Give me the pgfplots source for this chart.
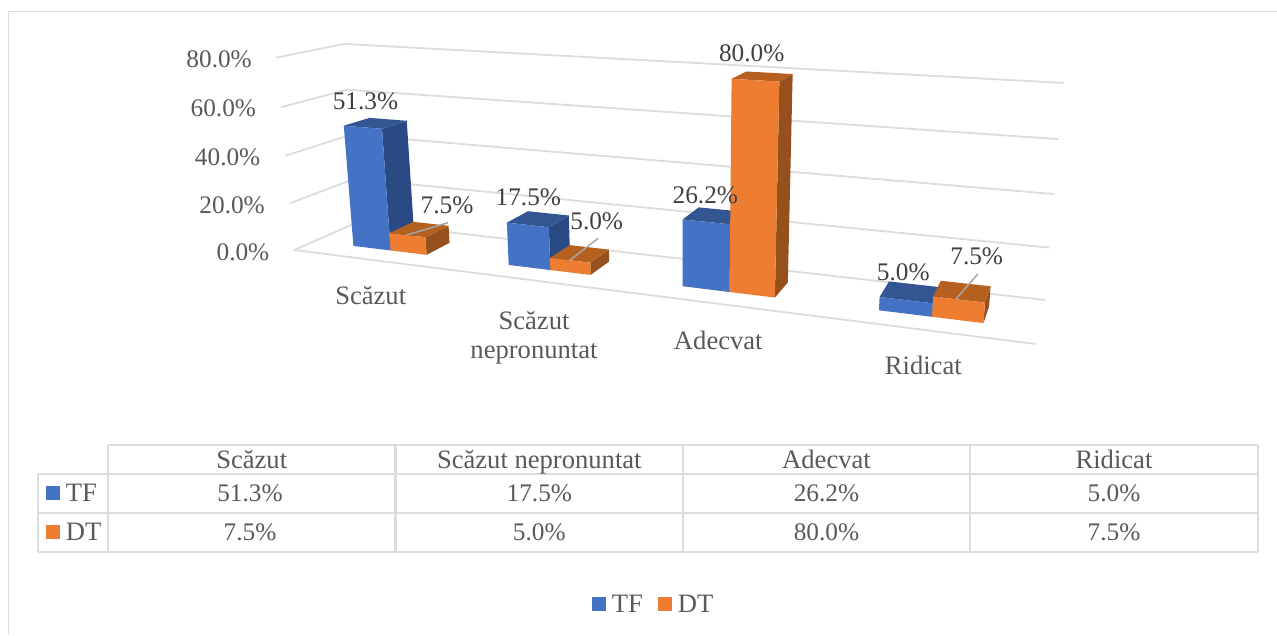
\documentclass[border=0pt]{standalone}
\usepackage{pgfplots}
\usepackage{pgfplotstable}
\usepackage{fontspec}
\setmainfont{Liberation Serif}
\pgfplotsset{compat=1.18}

\definecolor{gridc}{HTML}{DCDCDC}
\definecolor{lblc}{HTML}{404040}
\definecolor{tickc}{HTML}{595959}
\definecolor{leadc}{HTML}{A6A6A6}
\definecolor{tffront}{HTML}{4472C4}
\definecolor{tftop}{HTML}{335693}
\definecolor{tfside}{HTML}{2A4A84}
\definecolor{dtfront}{HTML}{ED7D31}
\definecolor{dttop}{HTML}{B5601F}
\definecolor{dtside}{HTML}{96501D}

% category position (left edge of the group), TF, DT
\pgfplotstableread{
pos TF DT
0 51.3 7.5
1 17.5 5.0
2 26.2 80.0
3 5.0 7.5
}\chartdata

% perspective of the 3D chart: u = category 0..4, v = depth 0..1, w = percent
\newcommand\proj[4]{%
  \pgfmathsetmacro\pd{1-0.217*(#1)/4+0.0829*(#2)-0.04*(#3)/80}%
  \expandafter\pgfmathsetmacro\csname X#4\endcsname{(294+517.2*(#1)/4+93.7*(#2)-29*(#3)/80+2.5*(#1)/4*(#3)/80)/\pd}%
  \expandafter\pgfmathsetmacro\csname Y#4\endcsname{(250+19.4*(#1)/4-9.6*(#2)-194.6*(#3)/80+3.3*(#1)/4*(#3)/80)/\pd}%
}
% one box: u0, u1, value, colour prefix
\newcommand\cuboid[4]{%
  \proj{#1}{0.3}{0}{a}\proj{#2}{0.3}{0}{b}\proj{#2}{0.3}{#3}{c}\proj{#1}{0.3}{#3}{d}%
  \proj{#2}{0.7}{0}{e}\proj{#2}{0.7}{#3}{f}\proj{#1}{0.7}{#3}{g}%
  \addplot[draw=none,fill=#4side] coordinates {(\Xb,\Yb)(\Xe,\Ye)(\Xf,\Yf)(\Xc,\Yc)};
  \addplot[draw=none,fill=#4top] coordinates {(\Xd,\Yd)(\Xc,\Yc)(\Xf,\Yf)(\Xg,\Yg)};
  \addplot[draw=none,fill=#4front] coordinates {(\Xa,\Ya)(\Xb,\Yb)(\Xc,\Yc)(\Xd,\Yd)};
}
\newcommand\gridat[1]{%
  \proj{0}{0}{#1}{a}\proj{0}{1}{#1}{b}\proj{4}{1}{#1}{c}%
  \addplot[gridc,line width=1.8pt] coordinates {(\Xa,\Ya)(\Xb,\Yb)(\Xc,\Yc)};
}

\begin{document}
\begin{tikzpicture}[
  txt/.style={inner sep=0pt,anchor=base,font=\fontsize{25.3}{30}\selectfont,text=lblc},
  tck/.style={txt,text=tickc},
  cat/.style={tck,font=\fontsize{26.6}{30}\selectfont},
  tblline/.style={gridc,line width=2.2pt},
]
\useasboundingbox (0,0) rectangle (1277pt,635pt);
\begin{axis}[
  at={(0,0)},anchor=south west,
  scale only axis,width=1277pt,height=635pt,
  xmin=0,xmax=1277,ymin=0,ymax=635,y dir=reverse,
  axis lines=none,clip=false,no markers,
]
% chart frame
\addplot[gridc,line width=1.5pt] coordinates {(8.3,635)(8.3,11.7)(1277,11.7)};

% walls and floor
\gridat{0}\gridat{20}\gridat{40}\gridat{60}\gridat{80}
\proj{0}{0}{0}{a}\proj{4}{0}{0}{b}
\addplot[gridc,line width=1.8pt] coordinates {(\Xa,\Ya)(\Xb,\Yb)};

% bars
\pgfplotsforeachungrouped \r in {0,1,2,3}{
  \pgfplotstablegetelem{\r}{TF}\of\chartdata \let\tfval\pgfplotsretval
  \pgfplotstablegetelem{\r}{DT}\of\chartdata \let\dtval\pgfplotsretval
  \pgfmathsetmacro\ua{\r+0.27}\pgfmathsetmacro\ub{\r+0.52}\pgfmathsetmacro\uc{\r+0.755}
  \cuboid{\ua}{\ub}{\tfval}{tf}
  \cuboid{\ub}{\uc}{\dtval}{dt}
}

% leader lines
\addplot[leadc,line width=1.5pt] coordinates {(406.7,235)(448,222.7)};
\addplot[leadc,line width=1.5pt] coordinates {(570,260)(598.3,238.3)};
\addplot[leadc,line width=1.5pt] coordinates {(956,299)(977.7,274)};

% tick labels
\node[tck,anchor=base east] at (axis cs:252,67.7) {80.0\%};
\node[tck,anchor=base east] at (axis cs:256.2,116.7) {60.0\%};
\node[tck,anchor=base east] at (axis cs:260.5,165.7) {40.0\%};
\node[tck,anchor=base east] at (axis cs:265,213.3) {20.0\%};
\node[tck,anchor=base east] at (axis cs:269.5,260) {0.0\%};

% data labels
\node[txt] at (axis cs:365.5,109.3) {51.3\%};
\node[txt] at (axis cs:447,213.3) {7.5\%};
\node[txt] at (axis cs:528.3,205.7) {17.5\%};
\node[txt] at (axis cs:596.7,229) {5.0\%};
\node[txt] at (axis cs:705.3,203.3) {26.2\%};
\node[txt] at (axis cs:751.7,61.7) {80.0\%};
\node[txt] at (axis cs:903.3,280) {5.0\%};
\node[txt] at (axis cs:976.7,264) {7.5\%};

% category labels
\node[cat] at (axis cs:370.7,304) {Scăzut};
\node[cat] at (axis cs:534,329) {Scăzut};
\node[cat] at (axis cs:534,358.3) {nepronuntat};
\node[cat] at (axis cs:718.3,349.3) {Adecvat};
\node[cat] at (axis cs:923.3,374) {Ridicat};

% data table
\addplot[tblline] coordinates {(108,445)(1258,445)};
\addplot[tblline] coordinates {(38.3,474.3)(1258,474.3)};
\addplot[tblline] coordinates {(38.3,512.7)(1258,512.7)};
\addplot[tblline] coordinates {(38.3,551.7)(1258,551.7)};
\addplot[tblline] coordinates {(38.3,474.3)(38.3,551.7)};
\addplot[tblline] coordinates {(108,445)(108,551.7)};
\addplot[tblline] coordinates {(395.5,445)(395.5,551.7)};
\addplot[tblline] coordinates {(683,445)(683,551.7)};
\addplot[tblline] coordinates {(970,445)(970,551.7)};
\addplot[tblline] coordinates {(1258,445)(1258,551.7)};

\node[cat] at (axis cs:251.7,468.3) {Scăzut};
\node[cat] at (axis cs:539.3,468.3) {Scăzut nepronuntat};
\node[cat] at (axis cs:826.5,468.3) {Adecvat};
\node[cat] at (axis cs:1114,468.3) {Ridicat};

\node[cat,anchor=base west] at (axis cs:65.7,501.7) {TF};
\node[cat,anchor=base west] at (axis cs:65.7,540.7) {DT};
\addplot[draw=none,fill=tffront] coordinates {(46,486)(60,486)(60,500)(46,500)};
\addplot[draw=none,fill=dtfront] coordinates {(46,525)(60,525)(60,539)(46,539)};

\node[tck] at (axis cs:250,501.7) {51.3\%};
\node[tck] at (axis cs:539.3,501.7) {17.5\%};
\node[tck] at (axis cs:826.5,501.7) {26.2\%};
\node[tck] at (axis cs:1114,501.7) {5.0\%};
\node[tck] at (axis cs:250,540.7) {7.5\%};
\node[tck] at (axis cs:539.3,540.7) {5.0\%};
\node[tck] at (axis cs:826.5,540.7) {80.0\%};
\node[tck] at (axis cs:1114,540.7) {7.5\%};

% legend
\addplot[draw=none,fill=tffront] coordinates {(592,597)(606,597)(606,611)(592,611)};
\addplot[draw=none,fill=dtfront] coordinates {(658,597)(672,597)(672,611)(658,611)};
\node[cat,anchor=base west] at (axis cs:611.7,612) {TF};
\node[cat,anchor=base west] at (axis cs:677.7,612) {DT};
\end{axis}
\end{tikzpicture}
\end{document}
